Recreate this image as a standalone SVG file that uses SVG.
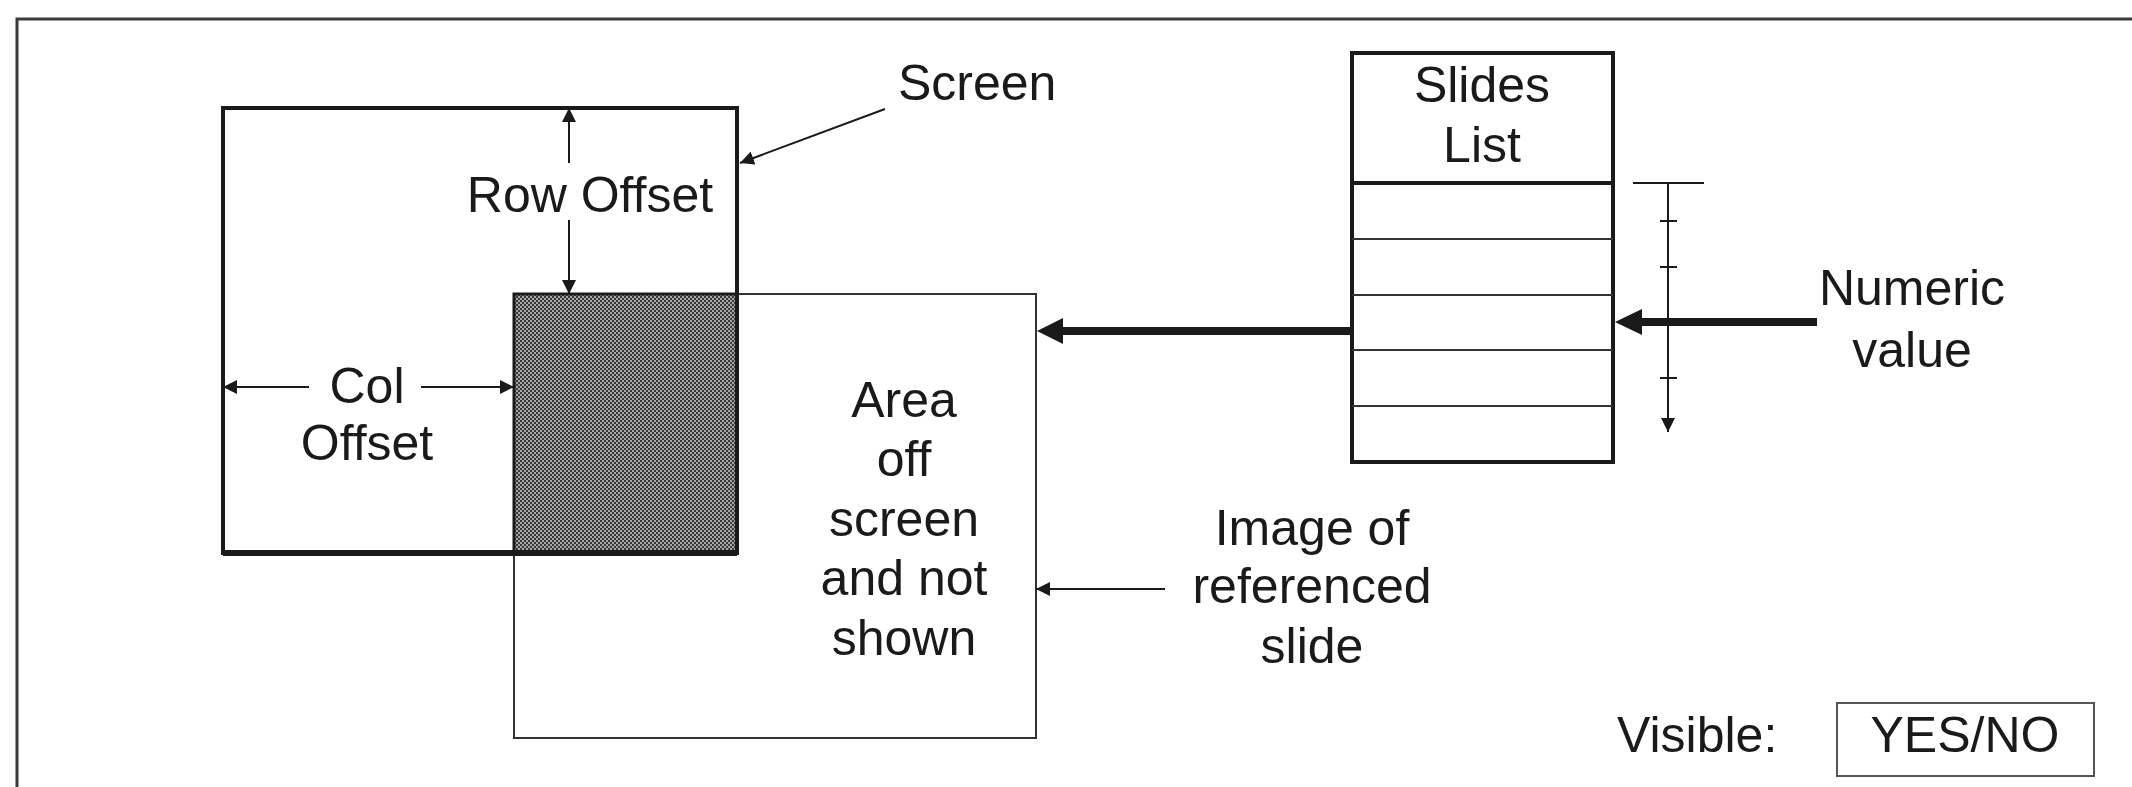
<svg xmlns="http://www.w3.org/2000/svg" width="2132" height="787" viewBox="0 0 2132 787">
  <style>
    text { font-family: "Liberation Sans", Arial, sans-serif; font-size: 50px; fill: #1a1a1a; }
    .mid { text-anchor: middle; }
    .thick { fill: none; stroke: #1a1a1a; stroke-width: 4; }
    .thin { fill: none; stroke: #333; stroke-width: 2; }
    .conn { fill: none; stroke: #1a1a1a; stroke-width: 2; }
    .heavy { fill: none; stroke: #1a1a1a; stroke-width: 8; }
  </style>
  <defs>
    <!-- halftone fill for the visible part of the slide -->
    <pattern id="halftone" width="4" height="4" patternUnits="userSpaceOnUse">
      <rect width="4" height="4" fill="#a6a6a6"/>
      <rect x="0" y="0" width="2" height="2" fill="#3a3a3a"/>
      <rect x="2" y="2" width="2" height="2" fill="#3a3a3a"/>
    </pattern>
    <marker id="small" viewBox="0 0 14 14" refX="14" refY="7" markerWidth="14" markerHeight="14" markerUnits="userSpaceOnUse" orient="auto">
      <path d="M0,0 L14,7 L0,14 Z" fill="#1a1a1a"/>
    </marker>
  </defs>

  <!-- outer frame -->
  <path d="M17,787 V19 H2132" fill="none" stroke="#3a3a3a" stroke-width="3"/>

  <!-- image of the referenced slide -->
  <g id="slide-image">
    <rect x="514" y="294" width="522" height="444" class="thin"/>
    <text class="mid" x="904" y="417">Area</text>
    <text class="mid" x="904" y="476">off</text>
    <text class="mid" x="904" y="536">screen</text>
    <text class="mid" x="904" y="595">and not</text>
    <text class="mid" x="904" y="655">shown</text>
  </g>

  <!-- part of the slide shown on screen -->
  <g id="visible-area">
    <rect x="514" y="294" width="223" height="259" fill="url(#halftone)" stroke="#1a1a1a" stroke-width="3"/>
  </g>

  <!-- screen -->
  <g id="screen">
    <rect x="223" y="108" width="514" height="445" class="thick"/>
    <path d="M223,553 H737" stroke="#1a1a1a" stroke-width="6"/>
  </g>

  <g id="screen-label">
    <text x="898" y="100">Screen</text>
  </g>

  <g id="row-offset">
    <text class="mid" x="590" y="212">Row Offset</text>
  </g>

  <g id="col-offset">
    <text class="mid" x="367" y="403">Col</text>
    <text class="mid" x="367" y="460">Offset</text>
  </g>

  <!-- slides list -->
  <g id="slides-list">
    <rect x="1352" y="53" width="261" height="409" class="thick"/>
    <path d="M1352,183 H1613" stroke="#1a1a1a" stroke-width="4"/>
    <path d="M1352,239 H1613 M1352,295 H1613 M1352,350 H1613 M1352,406 H1613" stroke="#333" stroke-width="2"/>
    <text class="mid" x="1482" y="102">Slides</text>
    <text class="mid" x="1482" y="162">List</text>
  </g>

  <g id="numeric-value">
    <text class="mid" x="1912" y="305">Numeric</text>
    <text class="mid" x="1912" y="367">value</text>
  </g>

  <g id="image-label">
    <text class="mid" x="1312" y="545">Image of</text>
    <text class="mid" x="1312" y="603">referenced</text>
    <text class="mid" x="1312" y="663">slide</text>
  </g>

  <g id="visible-flag">
    <text x="1617" y="752">Visible:</text>
    <rect x="1837" y="703" width="257" height="73" fill="none" stroke="#555" stroke-width="2"/>
    <text class="mid" x="1965" y="752">YES/NO</text>
  </g>

  <!-- connectors -->
  <g id="connectors">
    <!-- screen pointer -->
    <line x1="885" y1="109" x2="740" y2="163" class="conn" stroke-width="3" marker-end="url(#small)"/>
    <!-- row offset dimension -->
    <line x1="569" y1="163" x2="569" y2="108" class="conn" marker-end="url(#small)"/>
    <line x1="569" y1="220" x2="569" y2="294" class="conn" marker-end="url(#small)"/>
    <!-- col offset dimension -->
    <line x1="309" y1="387" x2="223" y2="387" class="conn" marker-end="url(#small)"/>
    <line x1="421" y1="387" x2="514" y2="387" class="conn" marker-end="url(#small)"/>
    <!-- slides list to slide image -->
    <line x1="1350" y1="331" x2="1060" y2="331" class="heavy"/>
    <path d="M1037,331 L1063,318 L1063,344 Z" fill="#1a1a1a"/>
    <!-- numeric value into slides list -->
    <line x1="1817" y1="322" x2="1640" y2="322" class="heavy"/>
    <path d="M1615,322 L1642,309 L1642,335 Z" fill="#1a1a1a"/>
    <!-- value scale -->
    <line x1="1633" y1="183" x2="1704" y2="183" class="conn"/>
    <line x1="1668" y1="183" x2="1668" y2="432" class="conn" marker-end="url(#small)"/>
    <path d="M1660,221 H1677 M1660,267 H1677 M1660,323 H1677 M1660,378 H1677" stroke="#1a1a1a" stroke-width="2"/>
    <!-- image label pointer -->
    <line x1="1165" y1="589" x2="1036" y2="589" class="conn" marker-end="url(#small)"/>
  </g>
</svg>
